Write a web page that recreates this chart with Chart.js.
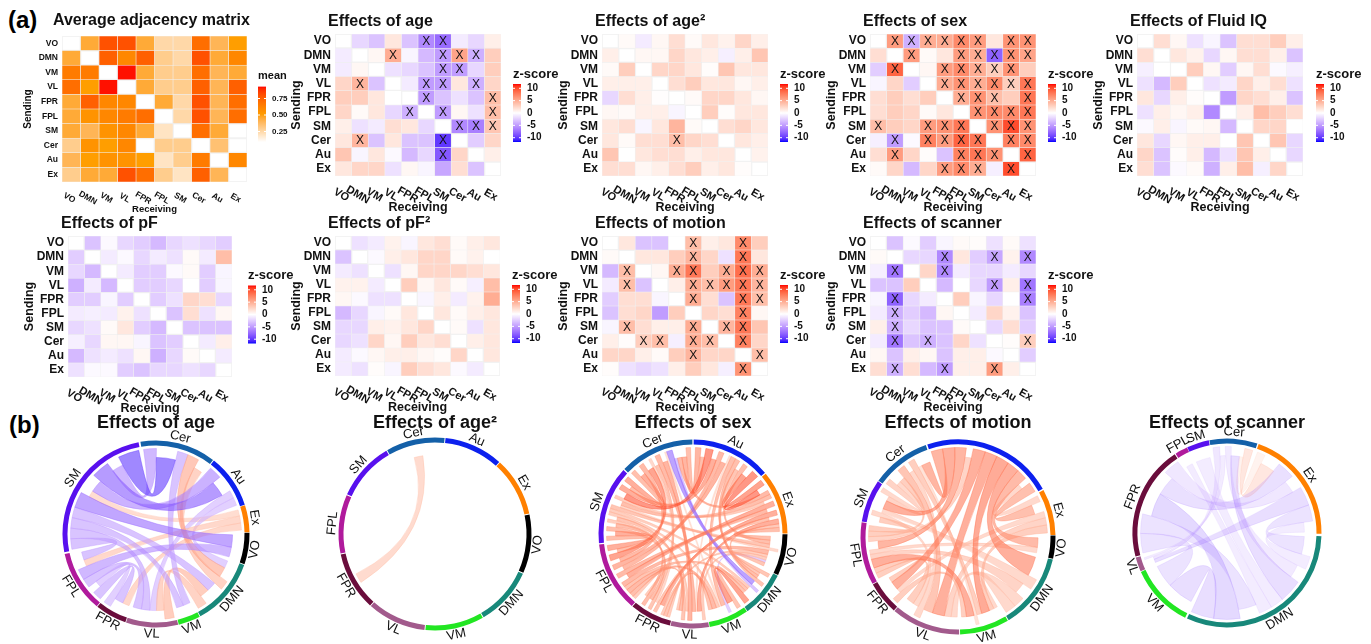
<!DOCTYPE html>
<html><head><meta charset="utf-8">
<script src="https://cdn.jsdelivr.net/npm/chart.js@4.4.1/dist/chart.umd.min.js"></script>
<style>
html,body{margin:0;padding:0;background:#fff;width:1371px;height:644px;overflow:hidden;position:relative;font-family:'Liberation Sans',Arial,sans-serif;}
canvas{position:absolute;}
.panel{position:absolute;font-weight:bold;font-size:24px;line-height:24px;color:#000;}
</style></head><body>
<div class="panel" style="left:8px;top:8px">(a)</div>
<div class="panel" style="left:9px;top:413px">(b)</div>
<script>
// ---------------- DATA ----------------
const NETWORKS = ['VO','DMN','VM','VL','FPR','FPL','SM','Cer','Au','Ex'];
const CB_TICKS_Z = [10,5,0,-5,-10];
const CB_TICKS_MEAN = [0.75,0.50,0.25];

const meanAdj = [
 [null,0.45,0.80,0.80,0.45,0.25,0.25,0.70,0.40,0.50],
 [0.45,null,0.75,0.60,0.75,0.30,0.25,0.80,0.45,0.60],
 [0.65,0.65,null,0.92,0.45,0.30,0.30,0.70,0.40,0.45],
 [0.70,0.50,0.92,null,0.45,0.30,0.30,0.75,0.40,0.75],
 [0.45,0.75,0.60,0.60,null,0.45,0.25,0.80,0.40,0.70],
 [0.45,0.55,0.60,0.65,0.70,null,0.25,0.80,0.40,0.70],
 [0.45,0.40,0.55,0.60,0.45,0.20,null,0.70,0.45,null],
 [0.30,0.55,0.50,0.60,null,0.30,0.30,null,0.35,null],
 [0.40,0.50,0.55,0.55,0.50,0.20,0.30,0.65,null,0.60],
 [0.30,0.45,0.45,0.80,0.70,0.30,0.20,0.75,0.40,null]
];
const ageZ = [
 [null,-2,-3,1.5,-3,-6,-7.5,-1,-2,1],
 [-1,null,0.5,5,-0.5,-3.5,-5,5.5,-4,3],
 [-1,0.5,null,-1.5,-2,-3,-5,-5,-2,3],
 [2.5,4.5,-3,null,-1,-5,-5,1.5,-4,2.5],
 [3,3,1.5,0,null,-5,-3,-1.5,-3,4],
 [2.5,0.3,1.5,-2,-4,null,-5,0.5,-1.5,4],
 [1,-1.5,-1,2,1.5,-2,null,-6,-6.5,3.5],
 [1.5,4.5,-3,1.5,-3,-3,-10,null,-2.5,2.5],
 [3.5,-0.5,1.5,-0.3,-3.5,-2,-8.5,2.5,null,1],
 [1.5,2.5,2.5,-1.5,0.5,-0.5,-4.5,2,-3,null]
];
const ageSig = ["0000011000","0001001110","0000001100","0100011010","0000010001","0000101001","0000000111","0100001000","0000001000","0000000000"];
const age2Z = [
 [null,0.3,-1,0.5,2,0.3,1.5,0.8,2.5,1],
 [1,null,0.5,0.5,2.5,1.5,1,-0.8,1,3.5],
 [0.3,3,null,2.5,2.5,1.5,0.2,3.5,1.5,1.5],
 [1,1,1,null,2,3,1.5,1.5,0.5,1],
 [-2,2,1,0.1,null,0.3,2.5,2.5,1.5,0.5],
 [0.5,0.3,1,1,-0.5,null,3,0.2,1.5,1.5],
 [1.5,2,-0.5,1.5,4.5,0.3,null,2,2.5,1.5],
 [1.5,0.3,2,2,4,2.5,2,null,1.5,1],
 [3.5,0,1.5,2,2,1,1.5,1.5,null,0.8],
 [2,2,0.5,1,2,3,1,1.5,0.2,null]
];
const age2Sig = ["0000000000","0000000000","0000000000","0000000000","0000000000","0000000000","0000000000","0000100000","0000000000","0000000000"];
const sexZ = [
 [null,6,-4,5,5,7,6,1.5,6.5,6.5],
 [2,null,6,0.3,1.5,6,5,-8,6.5,5.5],
 [-2.5,9,null,0.5,6,7,5,3,6.5,3],
 [-0.5,2.5,-2.5,null,5,6.5,5,7,3,8],
 [2,3,2,3,null,5,6.5,4,3,8],
 [2,3,2.5,0.3,1.5,null,6.5,7,7,8],
 [4,3,2.5,6,6.5,8,null,6.5,10,6.5],
 [-0.8,-5,-0.3,7.5,6,9,8,null,7.5,7],
 [2,6,2.5,0.2,-3,7.5,8,6.5,null,9],
 [0.3,2.5,-3.5,2.5,6,7,5,-0.8,10,null]
];
const sexSig = ["0111111011","0010011111","0100111110","0000111111","0000011101","0000001111","1001110111","0101111011","0100011101","0000111010"];
const iqZ = [
 [null,2,0.5,-1.5,-0.5,-3,2,2,3,1],
 [2,null,1.5,0.8,-2,0.5,2,2,1,-3],
 [-0.8,0,null,3,0.5,-2.5,0.5,2,-0.3,-0.8],
 [-1.5,-3.5,3,null,-1.5,-1,2.5,1,2,-1.5],
 [1.5,-2,1,0.2,null,-5,2.5,2,1,-3],
 [-1.5,1,0.5,1,-6,null,1,4,3,2],
 [-0.3,1,-0.5,0.3,0.5,-3.5,null,2.5,2.5,0],
 [1.5,-2,0.5,1,1,0,3.5,null,3.5,-2],
 [2.5,-3,0.2,1,-3.5,-1.5,3.5,1,null,-2],
 [2,-3,-0.3,0.3,-4,1,4,-0.8,2.5,null]
];
const pfZ = [
 [null,-3,-0.3,-2,-2.5,-3.5,-2,-1.5,-2,-2.5],
 [-2.5,null,-1,-0.3,-2,-1,-1.5,0.3,-1,4],
 [-2,-3.5,null,-1,-2.5,-2.5,-0.3,0.3,-2.5,-0.5],
 [-4,-1,-3.5,null,-2.5,-2.5,-2,0,-2.5,-0.5],
 [-2.5,-2.5,-0.5,-2.5,null,-2.5,-1.5,2.5,2,-2],
 [-1,-0.8,-1,0.8,-1.5,null,-3,2,-1.5,0.5],
 [-2,-1.5,0.3,1.5,-2.5,-3.5,null,-3,-3,-3],
 [-0.8,-2,0.5,0.5,-0.5,-3,-2.5,null,-1,1],
 [-3.5,-1.5,-1,-1.5,0.5,-4,-2,0.3,null,-1],
 [-1.5,-0.3,-0.3,-2.5,-3,-2,-2,-1.5,-2,null]
];
const pf2Z = [
 [null,-1.5,-1,0.8,-0.5,1.5,2,0.3,1,1.5],
 [-3,null,-0.3,1,1.5,2.5,2.5,0.3,0.8,0],
 [-1,-1.5,null,-1.5,0.5,2.5,2.5,2.5,2,1.5],
 [0.8,0.8,-1,null,3,0.5,1.5,0.3,-0.8,4],
 [0.5,-0.3,-1.5,-1.5,null,-0.5,1,-1,0.8,5],
 [-3.5,-2,-0.5,0.3,1.5,null,1.5,0.3,1,1.5],
 [-2,-2,1,0.8,1.5,2.5,null,0.3,-1.5,1.5],
 [-2,-1.5,2.5,0.5,3,1.5,2,null,1,1.5],
 [-1,-0.3,0.5,1,1,0.5,0.2,2.5,null,1.5],
 [-1,-1.5,0.2,-0.5,3,2,1.5,-0.3,-1,null]
];
const motionZ = [
 [null,1.5,-3,-3,0,4,1,1.5,7,3],
 [0.3,null,1.5,1.5,3,4.5,2.5,-1.5,8,1.5],
 [-3.5,4,null,0.5,5,8,3,5,8.5,5],
 [-1,4,-3,null,1,5,4,6,8,4.5],
 [-2.5,2,2,-0.5,null,5,2,-3,8,4],
 [-3,2,2.5,-5,3,null,2.5,2,7.5,0.5],
 [-0.5,4,2,1,1,5,null,4.5,8,3.5],
 [1,0.2,3,4,-0.8,5,4,null,7.5,2.5],
 [2.5,2.5,1,0.3,3,4.5,2.5,2.5,null,4],
 [0.2,-1.5,-2,-1.5,1,3,1.5,-0.8,6.5,null]
];
const motionSig = ["0000010010","0000010010","0100110111","0100011111","0000010011","0000000010","0100010110","0011011010","0000010001","0000000010"];
const scannerZ = [
 [null,-3,-0.3,-2.5,-0.5,0.3,0.2,-1.5,0.3,-1.5],
 [0.3,null,-2,-2,-6,1.5,-2.5,-4.5,0.8,-6],
 [-0.8,-7,null,2.5,-6,-1,-2,-2,-1,-2],
 [-3,-3,3,null,-3.5,0,-2,-5,1,-7],
 [-0.5,-8,-2,-1,null,3,-0.5,-2,0,-6.5],
 [-1,-4,-2.5,-3.5,0.5,null,-1,2.5,0.8,-3],
 [1,-4,-2,-3,-3,0.3,null,-2,2,-2.5],
 [-1,-7,-3,-4,-3,2.5,-1.5,null,0.2,3],
 [0.5,-3,1,0.5,-3,1,1,-0.3,null,-2.5],
 [2,-4,2,-3.5,-5,1,1,6,1,null]
];
const scannerSig = ["0000000000","0000100101","0100100000","0000000101","0100000001","0100000000","0100000000","0101000001","0000000000","0100100100"];

// chord diagram sector sizes (degrees of ring)
const ageSectors     = [20,43,14,33,20,39,92,48,34,17];
const age2Sectors    = [36,36,36,36,36,36,36,36,36,36];
const sexSectors     = [26,29,25,24,26,44,49,47,50,40];
const motionSectors  = [14,46,30,42,20,38,26,36,80,28];
const scannerSectors = [0,115,40,9,72,8,14,30,0,72];
const SECTOR_COLORS = ['#000000','#18887a','#22e622','#a25a8c','#6a0d3c','#b01a9c','#5810ee','#1460a8','#0c20ee','#ff8000'];

// ---------------- COLOR SCALES (Lab interpolation) ----------------
function s2l(c){c/=255;return c<=0.04045?c/12.92:Math.pow((c+0.055)/1.055,2.4);}
function l2s(c){const v=c<=0.0031308?12.92*c:1.055*Math.pow(Math.max(c,0),1/2.4)-0.055;return Math.round(Math.max(0,Math.min(1,v))*255);}
function rgb2lab(c){const r=s2l(c[0]),g=s2l(c[1]),b=s2l(c[2]);
 const X=(0.4124*r+0.3576*g+0.1805*b)/0.95047,Y=0.2126*r+0.7152*g+0.0722*b,Z=(0.0193*r+0.1192*g+0.9505*b)/1.08883;
 const f=t=>t>0.008856?Math.cbrt(t):7.787*t+16/116;return [116*f(Y)-16,500*(f(X)-f(Y)),200*(f(Y)-f(Z))];}
function lab2rgb(l){const fy=(l[0]+16)/116,fx=fy+l[1]/500,fz=fy-l[2]/200;
 const fi=t=>t*t*t>0.008856?t*t*t:(t-16/116)/7.787;const X=0.95047*fi(fx),Y=fi(fy),Z=1.08883*fi(fz);
 return [l2s(3.2406*X-1.5372*Y-0.4986*Z),l2s(-0.9689*X+1.8758*Y+0.0415*Z),l2s(0.0557*X-0.2040*Y+1.0570*Z)];}
function makeScale(stops){const labs=stops.map(s=>[s[0],rgb2lab(s[1])]);
 return v=>{if(v==null)return null;v=Math.max(labs[0][0],Math.min(labs[labs.length-1][0],v));
  for(let k=0;k<labs.length-1;k++){const a=labs[k],b=labs[k+1];if(v<=b[0]){const t=(v-a[0])/(b[0]-a[0]);
   return lab2rgb([0,1,2].map(q=>a[1][q]+(b[1][q]-a[1][q])*t));}}return lab2rgb(labs[labs.length-1][1]);};}
const zScale = makeScale([[-11.74,[0,0,255]],[0,[255,255,255]],[11.74,[255,0,0]]]);
const meanScale = makeScale([[0.09,[255,255,255]],[0.5,[255,158,0]],[0.93,[255,0,0]]]);
const rgbStr=(c,a)=>a==null?`rgb(${c[0]},${c[1]},${c[2]})`:`rgba(${c[0]},${c[1]},${c[2]},${a})`;
const FONT="'Liberation Sans', Arial, sans-serif";
Chart.defaults.font.family = FONT;
Chart.defaults.color = '#111';

// ---------------- HEATMAPS ----------------
function heatDecor(cfg, colorFn){
 return {id:'heatDecor', afterDatasetsDraw(chart){
  const ctx=chart.ctx, ca=chart.chartArea, xs=chart.scales.x, small=!!cfg.small;
  ctx.save();
  ctx.textAlign='center';ctx.textBaseline='middle';ctx.fillStyle='#111';
  if(cfg.sig){ctx.font='12px '+FONT;
   cfg.sig.forEach((row,i)=>{for(let j=0;j<10;j++){if(row[j]==='1'){const el=chart.getDatasetMeta(j).data[i];ctx.fillText('X',(el.x+el.base)/2,el.y+0.5);}}});}
  ctx.textAlign='left';ctx.font='bold 16px '+FONT;
  ctx.fillText(cfg.title, ca.left-(small?9:7), ca.top-(small?15:12.5));
  ctx.font='bold '+(small?8.5:11)+'px '+FONT;ctx.textAlign='center';
  NETWORKS.forEach((n,j)=>{const x=xs.getPixelForValue(j+0.5)-2;const y=ca.bottom+(small?16:19);
   ctx.save();ctx.translate(x,y);ctx.rotate(30*Math.PI/180);ctx.fillText(n,0,0);ctx.restore();});
  ctx.font='bold '+(small?9.5:12.5)+'px '+FONT;
  ctx.fillText('Receiving',(ca.left+ca.right)/2,ca.bottom+(small?27:32));
  // colorbar
  const isMean=cfg.scale==='mean';const x=ca.right+(cfg.cbx||12),bw=8;
  let y0,ppu,vmax,vmin,ref,ticks,labels,title,tF,lF;
  if(isMean){ref=0.5;y0=ca.top+79;ppu=66;vmax=0.93;vmin=0.09;ticks=CB_TICKS_MEAN;labels=ticks.map(v=>v.toFixed(2));title='mean';tF='bold 11px ';lF='bold 8px ';}
  else{ref=0;y0=(ca.top+ca.bottom)/2+8;ppu=2.47;vmax=11.74;vmin=-11.74;ticks=CB_TICKS_Z;labels=ticks.map(String);title='z-score';tF='bold 13px ';lF='bold 10px ';}
  const top=y0-(vmax-ref)*ppu,bot=y0+(ref-vmin)*ppu;
  const g=ctx.createLinearGradient(0,top,0,bot);
  for(let k=0;k<=30;k++){const v=vmax-(vmax-vmin)*k/30;g.addColorStop(k/30,rgbStr(colorFn(v)));}
  ctx.fillStyle=g;ctx.fillRect(x,top,bw,bot-top);
  ctx.textAlign='left';
  ticks.forEach((v,n)=>{const y=y0-(v-ref)*ppu;ctx.strokeStyle='#fff';ctx.lineWidth=1;
   ctx.beginPath();ctx.moveTo(x,y);ctx.lineTo(x+2,y);ctx.moveTo(x+bw-2,y);ctx.lineTo(x+bw,y);ctx.stroke();
   ctx.fillStyle='#111';ctx.font=lF+FONT;ctx.fillText(labels[n],x+bw+6,y);});
  ctx.font=tF+FONT;ctx.fillText(title,x,top-(isMean?11:10));
  ctx.restore();
 }};
}
function buildHeatmap(cfg){
 const small=!!cfg.small, YW=50, PT=34, PB=44, PR=100;
 const gx=Math.round(cfg.gx),gy=Math.round(cfg.gy),gw=Math.round(cfg.gw),gh=Math.round(cfg.gh);
 const cv=document.createElement('canvas');cv.width=YW+gw+PR;cv.height=PT+gh+PB;
 cv.style.left=(gx-YW)+'px';cv.style.top=(gy-PT)+'px';document.body.appendChild(cv);
 const colorFn=cfg.scale==='mean'?meanScale:zScale;
 const datasets=NETWORKS.map((recv,j)=>({
  label:recv,
  data:NETWORKS.map(()=>[j,j+1]),
  backgroundColor:cfg.m.map(row=>row[j]==null?'rgba(255,255,255,0)':rgbStr(colorFn(row[j]))),
  borderColor:'rgba(235,235,235,0.6)',borderWidth:0.6,borderSkipped:false,grouped:false,
  barPercentage:1,categoryPercentage:1
 }));
 new Chart(cv,{type:'bar',data:{labels:NETWORKS,datasets},
  options:{indexAxis:'y',responsive:false,animation:false,events:[],
   layout:{padding:{left:0,top:PT,right:PR,bottom:PB}},
   plugins:{legend:{display:false},tooltip:{enabled:false},title:{display:false}},
   scales:{
    x:{type:'linear',min:0,max:10,display:false},
    y:{type:'category',grid:{display:false,drawTicks:false},border:{display:false},
     ticks:{font:{weight:'bold',size:small?8.5:12},color:'#111',padding:4,autoSkip:false},
     title:{display:true,text:'Sending',color:'#111',font:{weight:'bold',size:small?10:12.5},padding:{top:small?10:4,bottom:0}},
     afterFit:s=>{s.width=YW;}}
   }},
  plugins:[heatDecor(cfg,colorFn)]});
}
const HEATMAPS=[
 {title:'Average adjacency matrix',m:meanAdj,sig:null,scale:'mean',small:true,gx:62,gy:36,gw:185,gh:146,cbx:11},
 {title:'Effects of age',m:ageZ,sig:ageSig,gx:335,gy:34,gw:166,gh:142},
 {title:'Effects of age\u00b2',m:age2Z,sig:age2Sig,gx:602,gy:34,gw:166,gh:142},
 {title:'Effects of sex',m:sexZ,sig:sexSig,gx:870,gy:34,gw:166,gh:142},
 {title:'Effects of Fluid IQ',m:iqZ,sig:null,gx:1137,gy:34,gw:166,gh:142,cbx:13},
 {title:'Effects of pF',m:pfZ,sig:null,gx:68,gy:236,gw:164,gh:141,cbx:16},
 {title:'Effects of pF\u00b2',m:pf2Z,sig:null,gx:335,gy:236,gw:165,gh:140},
 {title:'Effects of motion',m:motionZ,sig:motionSig,gx:602,gy:236,gw:166,gh:140},
 {title:'Effects of scanner',m:scannerZ,sig:scannerSig,gx:870,gy:236,gw:166,gh:140}
];
HEATMAPS.forEach(buildHeatmap);

// ---------------- CHORD DIAGRAMS ----------------
function linksFrom(Z,sig){const L=[];sig.forEach((row,i)=>{for(let j=0;j<10;j++)if(row[j]==='1')L.push({from:i,to:j,z:Z[i][j]});});return L;}
function chordDecor(cfg){
 return {id:'chordDecor',afterDatasetsDraw(chart){
  const ctx=chart.ctx,arcs=chart.getDatasetMeta(0).data,N=10;
  const cx=arcs[0].x,cy=arcs[0].y,rOut=arcs[0].outerRadius,rIn=arcs[0].innerRadius;
  const links=cfg.links;
  const ends=NETWORKS.map(()=>[]);
  links.forEach((l,k)=>{const w=Math.abs(l.z);ends[l.from].push({k,role:'s',other:l.to,w});ends[l.to].push({k,role:'t',other:l.from,w});});
  const pos=links.map(()=>({}));
  ends.forEach((list,s)=>{const a=arcs[s];if(!list.length||a.endAngle-a.startAngle<=0)return;
   const ins=2.5/rIn;const a0=a.startAngle+ins,a1=a.endAngle-ins;
   const tot=list.reduce((t,e)=>t+e.w,0);
   list.sort((p,q)=>((q.other-s+N)%N)-((p.other-s+N)%N));
   let span=a1-a0, cur=a0;
   if(cfg.unit){const need=tot*cfg.unit*Math.PI/180;if(need<span){cur=(a0+a1)/2-need/2;span=need;}}
   list.forEach(e=>{const sp=span*e.w/tot;pos[e.k][e.role]=[cur,cur+sp];cur+=sp;});});
  ctx.save();
  const rs=rIn*0.88, rt=rIn-1.5;
  const order=links.map((l,k)=>k).sort((p,q)=>Math.abs(links[p].z)-Math.abs(links[q].z));
  order.forEach(k=>{const l=links[k],p=pos[k];if(!p.s||!p.t)return;const c=zScale(l.z);
   ctx.beginPath();
   ctx.moveTo(cx+rs*Math.cos(p.s[0]),cy+rs*Math.sin(p.s[0]));
   ctx.arc(cx,cy,rs,p.s[0],p.s[1]);
   ctx.quadraticCurveTo(cx,cy,cx+rt*Math.cos(p.t[0]),cy+rt*Math.sin(p.t[0]));
   ctx.arc(cx,cy,rt,p.t[0],p.t[1]);
   ctx.quadraticCurveTo(cx,cy,cx+rs*Math.cos(p.s[0]),cy+rs*Math.sin(p.s[0]));
   ctx.closePath();
   ctx.fillStyle=rgbStr(c,cfg.alpha);ctx.fill();
   ctx.strokeStyle=rgbStr(c,Math.min(1,cfg.alpha*1.15));ctx.lineWidth=0.6;ctx.stroke();});
  ctx.fillStyle='#111';ctx.font='13px '+FONT;ctx.textAlign='center';ctx.textBaseline='middle';
  arcs.forEach((a,s)=>{if(a.endAngle-a.startAngle<=1e-6||(cfg.hide||[]).includes(NETWORKS[s]))return;
   const mid=(a.startAngle+a.endAngle)/2;let deg=((mid*180/Math.PI)%360+360)%360;
   const r=rOut+8;const rot=(deg>0&&deg<180)?mid-Math.PI/2:mid+Math.PI/2;
   ctx.save();ctx.translate(cx+r*Math.cos(mid),cy+r*Math.sin(mid));ctx.rotate(rot);ctx.fillText(NETWORKS[s],0,0);ctx.restore();});
  ctx.font='bold 18px '+FONT;ctx.fillText(cfg.title,cx,cy-(cfg.cy-423));
  ctx.restore();
 }};
}
function buildChord(cfg){
 const W=300,H=262;const cv=document.createElement('canvas');cv.width=W;cv.height=H;
 cv.style.left=(cfg.cx-W/2)+'px';cv.style.top=(cfg.cy-H/2)+'px';document.body.appendChild(cv);
 new Chart(cv,{type:'doughnut',
  data:{labels:NETWORKS,datasets:[{data:cfg.sectors,backgroundColor:SECTOR_COLORS,borderWidth:0,spacing:3,hoverOffset:0}]},
  options:{responsive:false,animation:false,events:[],rotation:cfg.rotation,radius:cfg.R,cutout:((cfg.R-5)/cfg.R*100)+'%',
   layout:{padding:0},plugins:{legend:{display:false},tooltip:{enabled:false}}},
  plugins:[chordDecor(cfg)]});
}
const CHORDS=[
 {title:'Effects of age',sectors:ageSectors,links:linksFrom(ageZ,ageSig),cx:156,cy:534,R:92,rotation:89,alpha:0.6},
 {title:'Effects of age\u00b2',sectors:age2Sectors,links:linksFrom(age2Z,age2Sig),cx:435,cy:534,R:95,rotation:78,alpha:0.55,unit:1.6},
 {title:'Effects of sex',sectors:sexSectors,links:linksFrom(sexZ,sexSig),cx:693,cy:534,R:93,rotation:90,alpha:0.58},
 {title:'Effects of motion',sectors:motionSectors,links:linksFrom(motionZ,motionSig),cx:958,cy:537,R:96,rotation:89,alpha:0.58,hide:['Au']},
 {title:'Effects of scanner',sectors:scannerSectors,links:linksFrom(scannerZ,scannerSig),cx:1227,cy:533,R:93,rotation:91,alpha:0.24}
];
CHORDS.forEach(buildChord);
</script></body></html>
